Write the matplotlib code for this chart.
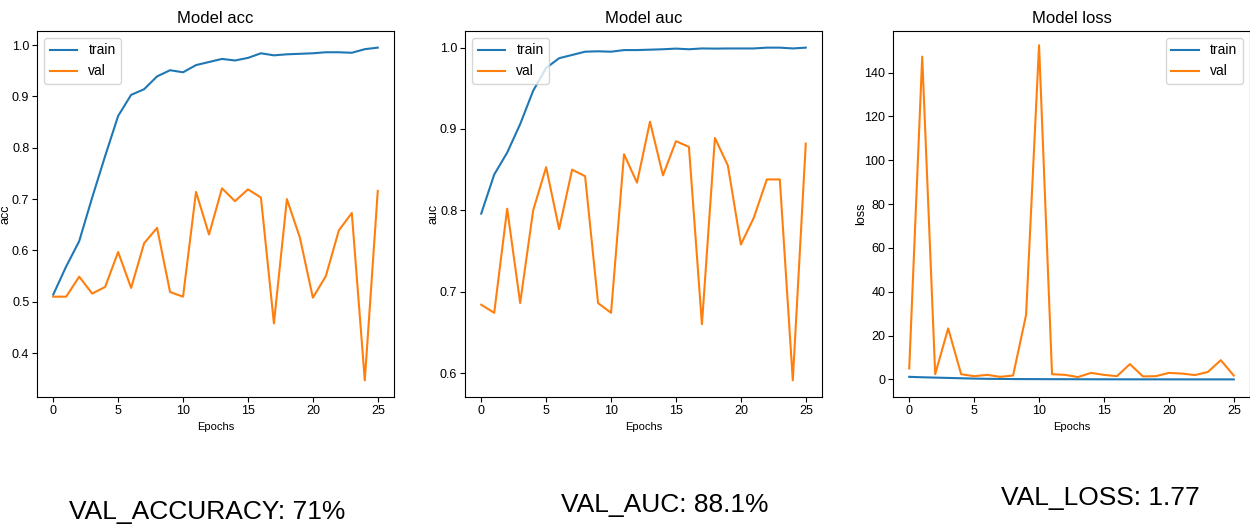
import matplotlib.pyplot as plt
from matplotlib.ticker import MultipleLocator

plt.rcParams["font.family"] = ["Liberation Sans", "DejaVu Sans"]

epochs = list(range(26))

acc_train = [0.514, 0.569, 0.618, 0.703, 0.784, 0.862, 0.903, 0.914, 0.939, 0.951,
             0.947, 0.961, 0.967, 0.973, 0.970, 0.975, 0.984, 0.980, 0.982, 0.983,
             0.984, 0.986, 0.986, 0.985, 0.992, 0.995]
acc_val = [0.510, 0.510, 0.549, 0.516, 0.529, 0.597, 0.527, 0.614, 0.644, 0.519,
           0.510, 0.714, 0.631, 0.721, 0.696, 0.719, 0.703, 0.458, 0.700, 0.625,
           0.508, 0.550, 0.639, 0.673, 0.347, 0.716]

auc_train = [0.796, 0.844, 0.871, 0.906, 0.947, 0.975, 0.987, 0.991, 0.995, 0.9955,
             0.995, 0.997, 0.997, 0.9975, 0.998, 0.9988, 0.998, 0.999, 0.9988, 0.999,
             0.999, 0.999, 1.0, 1.0, 0.999, 1.0]
auc_val = [0.684, 0.674, 0.802, 0.686, 0.800, 0.853, 0.777, 0.850, 0.842, 0.686,
           0.674, 0.869, 0.834, 0.909, 0.843, 0.885, 0.878, 0.660, 0.889, 0.855,
           0.758, 0.791, 0.838, 0.838, 0.591, 0.882]

loss_train = [1.2, 1.0, 0.85, 0.7, 0.55, 0.4, 0.3, 0.25, 0.2, 0.17,
              0.15, 0.13, 0.12, 0.1, 0.09, 0.08, 0.07, 0.07, 0.06, 0.06,
              0.05, 0.05, 0.04, 0.04, 0.04, 0.03]
loss_val = [5.0, 147.3, 2.4, 23.3, 2.4, 1.5, 2.1, 1.2, 1.8, 29.4,
            152.5, 2.4, 2.1, 1.1, 3.0, 2.1, 1.5, 7.0, 1.4, 1.5,
            3.0, 2.7, 2.0, 3.4, 8.8, 1.77]

panels = [
    ("acc", acc_train, acc_val, "upper left", 0.1),
    ("auc", auc_train, auc_val, "upper left", 0.1),
    ("loss", loss_train, loss_val, "upper right", 20),
]
summary = ["VAL_ACCURACY: 71%", "VAL_AUC: 88.1%", "VAL_LOSS: 1.77"]

fig = plt.figure(figsize=(12.5, 5.26), dpi=100)
lefts = [37, 465, 893]
for (name, tr, va, loc, step), left in zip(panels, lefts):
    ax = fig.add_axes([left / 1250, 129 / 526, 357 / 1250, 366 / 526])
    ax.plot(epochs, tr, color="tab:blue", label="train")
    ax.plot(epochs, va, color="tab:orange", label="val")
    ax.yaxis.set_major_locator(MultipleLocator(step))
    ax.set_title("Model " + name, fontsize=12)
    ax.set_ylabel(name, fontsize=9)
    ax.yaxis.set_label_coords(-0.072, 0.5)
    ax.set_xlabel("Epochs", fontsize=8)
    ax.tick_params(labelsize=9, pad=2)
    ax.legend(loc=loc, fontsize=10)
    if name == "loss":
        ax.set_ylim(-8, 159)

# summary text under each panel
fig.text(207 / 1250, 1 - 512 / 526, summary[0], fontsize=19, ha="center", va="center")
fig.text(665 / 1250, 1 - 505 / 526, summary[1], fontsize=19, ha="center", va="center")
fig.text(1100 / 1250, 1 - 498 / 526, summary[2], fontsize=19, ha="center", va="center")

fig.savefig("out.png", dpi=100)
